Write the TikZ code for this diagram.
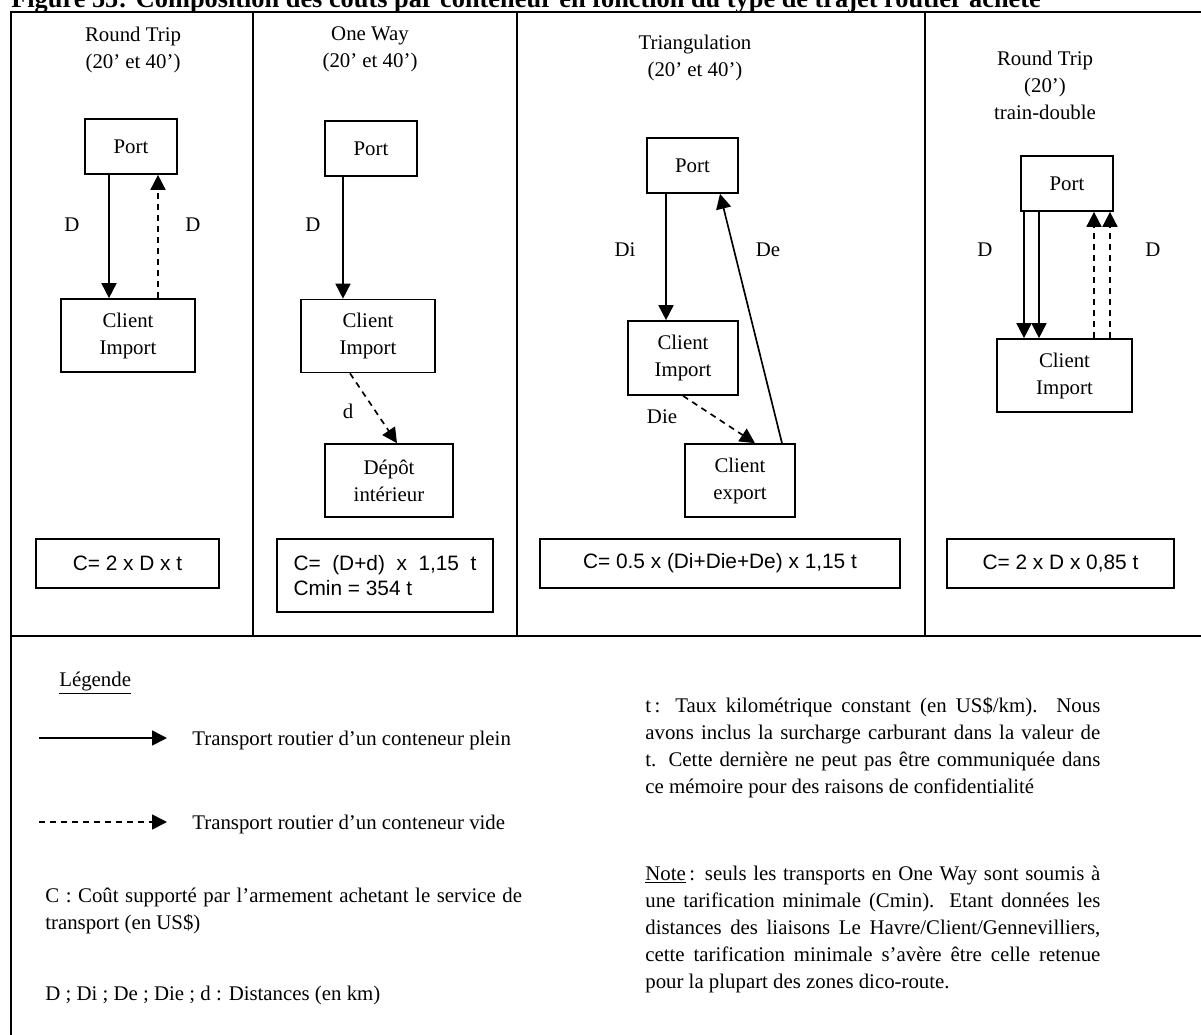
\documentclass[tikz,border=0pt]{standalone}
\usepackage{fontspec}
\setmainfont{Liberation Serif}
\newfontfamily\arialf{Liberation Sans}
\usetikzlibrary{arrows.meta}
\newcommand\mytxt{\fontsize{12.5}{16.2}\selectfont}
\newcommand\myform{\arialf\fontsize{12.5}{15}\selectfont}
\tikzset{
  frame/.style={line width=1.05pt},
  box/.style={draw, line width=1pt, align=center, inner sep=0pt, font=\mytxt},
  fbox/.style={draw, line width=1pt, inner sep=0pt, font=\myform},
  full/.style={line width=1pt, -{Triangle[length=9pt,width=9pt]}},
  empty/.style={full, dash pattern=on 3.6pt off 3pt},
  lbl/.style={font=\mytxt, inner sep=0pt},
}
\begin{document}
\begin{tikzpicture}[x=0.6pt,y=-0.6pt]
\useasboundingbox (0,0) rectangle (1201,1035);
\clip (0,0) rectangle (1201,1035);
\fill[white] (0,0) rectangle (1201,1035);
% title (cut at the top)
\node[anchor=base west, inner sep=0pt, font=\bfseries\fontsize{15.8}{18}\selectfont] (title) at (11,7) {Figure 55: Composition des coûts par conteneur en fonction du type de trajet routier acheté};
% frame
\coordinate (tl) at (11,12); \coordinate (tr) at (1201,12);
\coordinate (bl) at (11,1035); \coordinate (ml) at (11,636); \coordinate (mr) at (1201,636);
\draw[frame] (tr) -- (tl) -- (bl);
\draw[frame] (ml) -- (mr);
\coordinate (v1t) at (253,12); \coordinate (v1b) at (253,636);
\coordinate (v2t) at (517,12); \coordinate (v2b) at (517,636);
\coordinate (v3t) at (925,12); \coordinate (v3b) at (925,636);
\draw[frame] (v1t) -- (v1b);
\draw[frame] (v2t) -- (v2b);
\draw[frame] (v3t) -- (v3b);

% ---------- column 1 : Round Trip ----------
\node[lbl, align=center] (t1) at (133,50) {Round Trip\\(20’ et 40’)};
\node[box, minimum width=55.2pt, minimum height=33pt] (p1) at (131,146.5) {Port};
\node[box, minimum width=80.4pt, minimum height=43.8pt] (c1) at (128,335.5) {Client\\Import};
\coordinate (x1a) at (109,0); \coordinate (x1b) at (158,0);
\draw[full] (p1.south -| x1a) -- (c1.north -| x1a);
\draw[empty] (c1.north -| x1b) -- (p1.south -| x1b);
\node[lbl] (l1a) at (72,225) {D};
\node[lbl] (l1b) at (193,225) {D};
\node[fbox, minimum width=109.8pt, minimum height=29.4pt] (f1) at (127.5,563.5) {C= 2 x D x t};

% ---------- column 2 : One Way ----------
\node[lbl, align=center] (t2) at (370,49) {One Way\\(20’ et 40’)};
\node[box, minimum width=55.2pt, minimum height=33pt] (p2) at (371,148.5) {Port};
\node[box, minimum width=80.4pt, minimum height=43.8pt] (c2) at (368,336) {Client\\Import};
\node[box, minimum width=76.8pt, minimum height=43.8pt] (dp) at (389,480.5) {Dépôt\\intérieur};
\coordinate (x2a) at (343,0); \coordinate (x2b) at (350,0); \coordinate (x2c) at (397,0);
\draw[full] (p2.south -| x2a) -- (c2.north -| x2a);
\draw[empty] (c2.south -| x2b) -- (dp.north -| x2c);
\node[lbl] (l2a) at (313,225) {D};
\node[lbl] (l2b) at (348,411) {d};
\node[fbox, minimum width=129.6pt, minimum height=43.8pt, align=left] (f2) at (385,575.5) {C=\ \ (D+d)\ \ x\ \ 1,15\ \ t\\Cmin = 354 t};

% ---------- column 3 : Triangulation ----------
\node[lbl, align=center] (t3) at (695,58) {Triangulation\\(20’ et 40’)};
\node[box, minimum width=54.6pt, minimum height=33pt] (p3) at (692.5,165.5) {Port};
\node[box, minimum width=66pt, minimum height=44.4pt] (c3) at (683,358) {Client\\Import};
\node[box, minimum width=66pt, minimum height=43.8pt] (e3) at (740,480.5) {Client\\export};
\coordinate (x3d) at (666,0); \coordinate (x3a) at (755,0);
\coordinate (x3b) at (782,0); \coordinate (x3c) at (720,0);
\draw[full] (p3.south -| x3d) -- (c3.north -| x3d);
\draw[empty] (c3.south) -- (e3.north -| x3a);
\draw[full] (e3.north -| x3b) -- (p3.south -| x3c);
\node[lbl] (l3a) at (625,250) {Di};
\node[lbl] (l3b) at (768,250) {De};
\node[lbl] (l3c) at (662,417) {Die};
\node[fbox, minimum width=216pt, minimum height=29.4pt] (f3) at (720,563.5) {C= 0.5 x (Di+Die+De) x 1,15 t};

% ---------- column 4 : Round Trip train-double ----------
\node[lbl, align=center] (t4) at (1045,85) {Round Trip\\(20’)\\train-double};
\node[box, minimum width=55.2pt, minimum height=33pt] (p4) at (1067,183.5) {Port};
\node[box, minimum width=81pt, minimum height=43.8pt] (c4) at (1064.5,375.5) {Client\\Import};
\coordinate (x4a) at (1024,0); \coordinate (x4b) at (1039,0);
\coordinate (x4c) at (1094,0); \coordinate (x4d) at (1110,0);
\draw[full] (p4.south -| x4a) -- (c4.north -| x4a);
\draw[full] (p4.south -| x4b) -- (c4.north -| x4b);
\draw[empty] (c4.north -| x4c) -- (p4.south -| x4c);
\draw[empty] (c4.north -| x4d) -- (p4.south -| x4d);
\node[lbl] (l4a) at (985,250) {D};
\node[lbl] (l4b) at (1153,250) {D};
\node[fbox, minimum width=136.2pt, minimum height=29.4pt] (f4) at (1060.5,563.5) {C= 2 x D x 0,85 t};

% ---------- legend ----------
\node[lbl, anchor=west] (leg) at (59,683) {\underline{Légende}};
\coordinate (s1) at (39,738); \coordinate (s2) at (167,738);
\draw[full] (s1) -- (s2);
\node[lbl, anchor=west] (lt1) at (192,740) {Transport routier d’un conteneur plein};
\coordinate (s3) at (39,822); \coordinate (s4) at (167,822);
\draw[empty] (s3) -- (s4);
\node[lbl, anchor=west] (lt2) at (192,824) {Transport routier d’un conteneur vide};
\node[lbl, anchor=west, align=left] (lc) at (45,911) {\makebox[286pt][s]{C : Coût supporté par l’armement achetant le service de}\\transport (en US\$)};
\node[lbl, anchor=west] (ld) at (45,995) {D ; Di ; De ; Die ; d : Distances (en km)};

\node[lbl, anchor=west, align=left] (lt) at (645,747.5) {%
\makebox[273pt][s]{t\,: Taux kilométrique constant (en US\$/km). Nous}\\
\makebox[273pt][s]{avons inclus la surcharge carburant dans la valeur de}\\
\makebox[273pt][s]{t. Cette dernière ne peut pas être communiquée dans}\\
ce mémoire pour des raisons de confidentialité};
\node[lbl, anchor=west, align=left] (ln) at (645,929) {%
\makebox[273pt][s]{\underline{Note}\,: seuls les transports en One Way sont soumis à}\\
\makebox[273pt][s]{une tarification minimale (Cmin). Etant données les}\\
\makebox[273pt][s]{distances des liaisons Le Havre/Client/Gennevilliers,}\\
\makebox[273pt][s]{cette tarification minimale s’avère être celle retenue}\\
pour la plupart des zones dico-route.};
\end{tikzpicture}
\end{document}
